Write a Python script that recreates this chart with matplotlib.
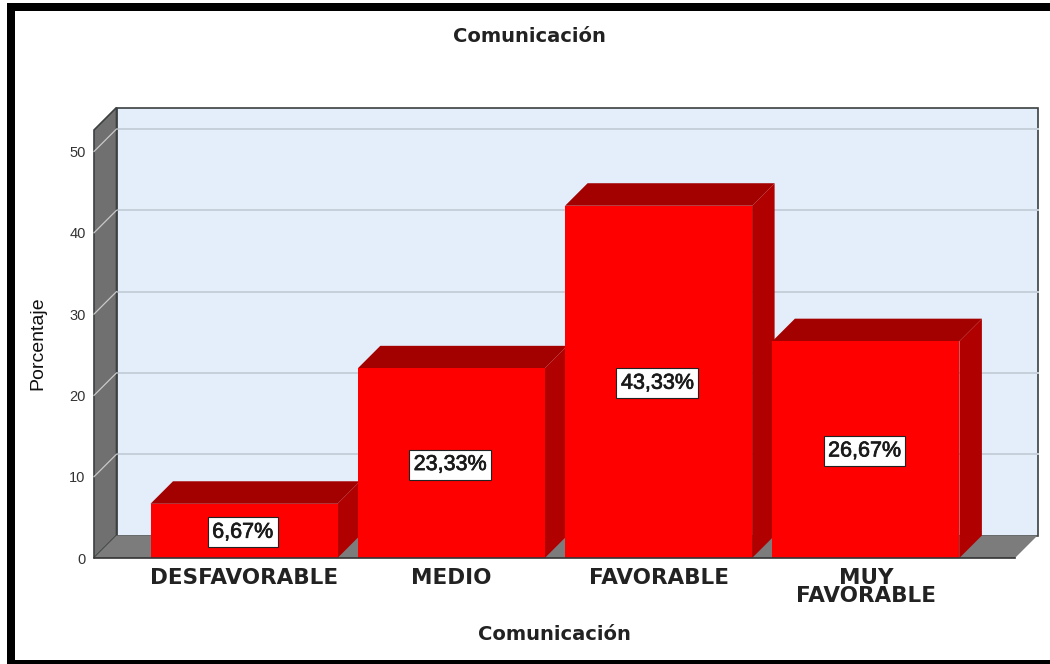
import matplotlib
matplotlib.use("Agg")
import matplotlib.pyplot as plt
import matplotlib.patheffects as pe
from matplotlib.patches import Polygon, Rectangle

categories = ["DESFAVORABLE", "MEDIO", "FAVORABLE", "MUY\nFAVORABLE"]
values = [6.67, 23.33, 43.33, 26.67]
value_labels = ["6,67%", "23,33%", "43,33%", "26,67%"]
y_ticks = [0, 10, 20, 30, 40, 50]
title = "Comunicación"
x_title = "Comunicación"
y_title = "Porcentaje"

W, H = 1050, 664
plt.rcParams["font.family"] = ["Liberation Sans", "DejaVu Sans"]
fig = plt.figure(figsize=(W / 100, H / 100), dpi=100, facecolor="white")

# front plane of the 3D box, in pixels
L, R, B, T = 94, 1015, 558, 130
ax = fig.add_axes([L / W, 1 - B / H, (R - L) / W, (B - T) / H])
ppx, ppy = 207.3, 8.13
x0 = (L - 244) / ppx
x1 = (R - 244) / ppx
ymax = (B - T) / ppy
ax.set_xlim(x0, x1)
ax.set_ylim(0, ymax)
ax.patch.set_visible(False)
for s in ax.spines.values():
    s.set_visible(False)

depth = 22.5
dx, dy = depth / ppx, depth / ppy
EDGE = "#3c4040"

# back wall, left wall, floor
ax.add_patch(Polygon([(x0 + dx, dy), (x1 + dx, dy), (x1 + dx, ymax + dy), (x0 + dx, ymax + dy)],
                     closed=True, fc="#E3EEFA", ec=EDGE, lw=1.2, zorder=1, clip_on=False))
ax.add_patch(Polygon([(x0, 0), (x0 + dx, dy), (x0 + dx, ymax + dy), (x0, ymax)],
                     closed=True, fc="#707070", ec=EDGE, lw=1.2, zorder=2, clip_on=False))
ax.add_patch(Polygon([(x0, 0), (x1, 0), (x1 + dx, dy), (x0 + dx, dy)],
                     closed=True, fc="#7c7c7c", ec="none", zorder=2, clip_on=False))

# gridlines on the walls
for t in y_ticks[1:]:
    ax.plot([x0 + dx, x1 + dx], [t + dy, t + dy], color="#C6D0DA", lw=1.4, zorder=1.5, clip_on=False)
    ax.plot([x0, x0 + dx], [t, t + dy], color="#C9C9C9", lw=0.9, zorder=3, clip_on=False)

# bars
width = 187 / ppx
for i, v in enumerate(values):
    z = 5 + i
    ax.bar(i, v, width=width, color="#FF0000", linewidth=0, zorder=z + 0.5)
    xl, xr = i - width / 2, i + width / 2
    ax.add_patch(Polygon([(xl, v), (xr, v), (xr + dx, v + dy), (xl + dx, v + dy)],
                         closed=True, fc="#A30000", ec="none", zorder=z, clip_on=False))
    ax.add_patch(Polygon([(xr, 0), (xr + dx, dy), (xr + dx, v + dy), (xr, v)],
                         closed=True, fc="#B00000", ec="none", zorder=z, clip_on=False))
    ax.annotate(value_labels[i], (i, v / 2), xytext=(-1, -1), textcoords="offset points",
                ha="center", va="center", fontsize=15.5, color="#1a1a1a", zorder=20,
                path_effects=[pe.withStroke(linewidth=0.5, foreground="#1a1a1a")],
                bbox=dict(boxstyle="square,pad=0.21", fc="white", ec="#222222", lw=0.8))

ax.plot([x0, x1], [0, 0], color="#333333", lw=1.2, zorder=15, clip_on=False)

ax.set_yticks(y_ticks)
ax.set_yticklabels([str(t) for t in y_ticks], fontsize=10.5, color="#333333")
ax.tick_params(axis="y", length=0, pad=6)
ax.set_xticks(range(len(categories)))
ax.set_xticklabels(categories, fontsize=15.5, color="#222222", linespacing=0.9,
                   family="DejaVu Sans", fontweight="bold")
ax.tick_params(axis="x", length=0, pad=7)

ax.set_title(title, fontsize=14, color="#222222", family="DejaVu Sans", fontweight="bold",
             x=(529 - L) / (R - L), y=(B - 45) / (B - T), va="center")
ax.set_xlabel(x_title, fontsize=14, color="#222222", family="DejaVu Sans", fontweight="bold", va="center")
ax.xaxis.set_label_coords((554 - L) / (R - L), (B - 634) / (B - T))
ax.set_ylabel(y_title, fontsize=14, color="#111111", va="center", rotation=90)
ax.yaxis.set_label_coords((38 - L) / (R - L), (B - 343) / (B - T))

# black picture frame (left, top, bottom)
for (x, y, w, h) in [(7, 3, 8, 658), (7, 3, W - 7, 8), (7, 660, W - 7, 4)]:
    fig.add_artist(Rectangle((x / W, 1 - (y + h) / H), w / W, h / H, transform=fig.transFigure,
                             fc="black", ec="none"))

fig.savefig("out.png", dpi=100)
